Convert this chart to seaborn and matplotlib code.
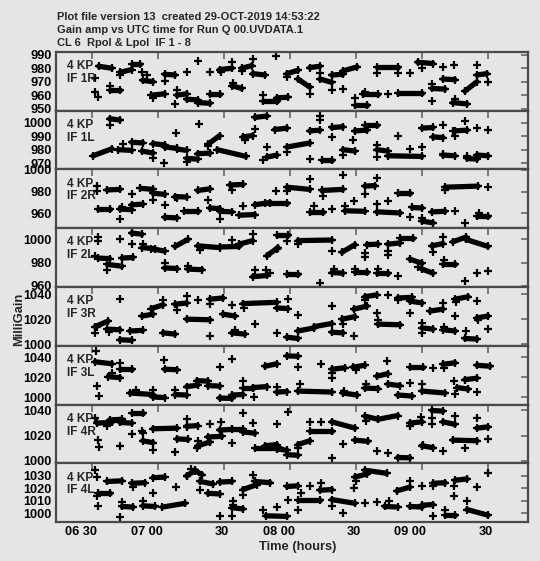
import pandas as pd
import matplotlib
matplotlib.use("Agg")
import matplotlib.pyplot as plt
import matplotlib.transforms as mtransforms
import seaborn as sns

# time axis: minutes after 06:00 UTC
tick_minutes = [30, 60, 90, 120, 150, 180, 210]
tick_labels = ["06 30", "07 00", "30", "08 00", "30", "09 00", "30"]

title_lines = ["Plot file version 13  created 29-OCT-2019 14:53:22",
               "Gain amp vs UTC time for Run Q 00.UVDATA.1",
               "CL 6  Rpol & Lpol  IF 1 - 8"]

panel_names = ["IF 1R", "IF 1L", "IF 2R", "IF 2L", "IF 3R", "IF 3L", "IF 4R", "IF 4L"]
panel_ylims = [(948.6, 992.3), (965.4, 1009.1), (946.6, 1000.3), (959.1, 1009.7),
               (998.6, 1045.8), (992.3, 1051.6), (998.0, 1044.6), (992.8, 1039.9)]
panel_yticks = [[950, 960, 970, 980, 990], [970, 980, 990, 1000], [960, 980, 1000],
                [960, 980, 1000], [1000, 1020, 1040], [1000, 1020, 1040],
                [1000, 1020, 1040], [1000, 1010, 1020, 1030]]

# dense solution blocks: (t start, t end, value start, value end)
if1r_seg = [(33, 39, 981.5, 980), (38, 42.7, 963.6, 963.6), (42.7, 48, 977, 979), (48, 52, 983, 983),
            (53, 57.7, 971, 970), (57, 63, 960, 961), (63, 67.7, 975.5, 975), (68.6, 73, 960, 961),
            (73, 78, 957, 956.5), (78, 83.6, 954.5, 954), (83.6, 88, 961, 961), (88, 93.6, 979, 980),
            (93.6, 98, 967, 965), (98, 102.7, 980, 982), (103, 108.6, 976, 975), (107.7, 114, 956, 956),
            (114, 119, 958, 958.5), (118.6, 123.6, 976, 978.5), (123.6, 129, 972, 966),
            (129, 133.6, 980.5, 981.5), (133.6, 139, 972, 969.5), (139, 144, 975, 975.5),
            (144, 150.5, 978, 981), (149.5, 155, 953, 953), (153, 160, 961, 961), (159.5, 169, 981, 981),
            (169, 180, 961.5, 961.5), (178, 185, 984.5, 983.5), (184.5, 190.5, 965, 964.5),
            (189.5, 195, 972, 971.5), (194, 200.5, 954.5, 953.5), (199.5, 205, 963, 970),
            (205, 209.5, 975, 976)]
if1r_pts = [(31.4, 962.3), (32.7, 958.5), (31.4, 972.6), (38, 966.8), (42.7, 975), (52.7, 977.4),
            (55, 975), (57.5, 957.8), (63, 970.4), (68.6, 963.6), (67.7, 953.8), (73, 977), (78, 985.5),
            (83.6, 977.4), (88.5, 977), (93.6, 985), (94, 969), (98, 978), (103, 987), (107.7, 960.3),
            (113.6, 989.2), (118.6, 973.6), (129, 961), (133.6, 976.2), (139, 963.6), (144, 964.8),
            (149.5, 958), (154, 962), (159.5, 976.7), (164.5, 960.6), (169, 976.2), (174.5, 976.2),
            (180, 980), (184.5, 968.6), (184.5, 956), (189.5, 981.2), (194.5, 982.2), (195, 957.4),
            (205, 982.5), (210, 970)]

if1l_seg = [(30.5, 39, 975.5, 980.7), (38, 42.7, 1003, 1002), (42, 48, 980, 979.5), (48, 53, 985.5, 985),
            (52.7, 57.7, 979, 977.5), (57.7, 63, 984.5, 983.5), (63, 68.6, 982, 981),
            (68.6, 73, 980.5, 979.5), (73, 78, 973.5, 973), (78, 83.6, 977, 977.5), (82.7, 88, 984, 990.5),
            (87, 100, 980, 975), (98.6, 103, 989.5, 990.5), (104, 109.5, 1004, 1005),
            (109.5, 114, 974.5, 976), (113, 118.6, 995, 996), (118.6, 129, 982, 985),
            (129, 133.6, 994, 994.5), (134.5, 139, 972, 972), (139, 144, 996.5, 997),
            (144, 149.5, 980, 979), (149.5, 155, 994, 994.5), (154, 159.5, 998, 998),
            (159.5, 164.5, 980, 979), (164.5, 180, 975.5, 975), (180, 185, 996, 996.5),
            (185, 189.5, 989.5, 989), (189.5, 195, 976, 975.5), (195, 200.5, 994, 994.5),
            (200.5, 205, 973.5, 973), (205, 210, 976, 975.5)]
if1l_pts = [(38, 998), (44, 984.4), (57.7, 974), (62.7, 970), (68.2, 992.6), (73, 970.8), (78.6, 999.3),
            (82.7, 983), (99.5, 987), (104, 995.5), (107.7, 972), (109.5, 982), (118.6, 978.2),
            (129, 973.3), (133.6, 1005.4), (133.6, 1002), (139, 989.3), (144, 975.8), (148.6, 987),
            (159.5, 983.2), (159.5, 974.5), (169, 990), (174.5, 980.7), (180, 982), (189.5, 998),
            (189.5, 977), (194, 993.8), (195, 990), (199.5, 1001), (200.5, 975), (205, 996.3),
            (210, 994.8)]

if2r_seg = [(32.7, 38, 964, 964), (36.8, 42.7, 981.5, 982), (42.7, 48, 964, 963.5), (48, 53, 968, 968.5),
            (52, 57.7, 983, 982), (57.7, 63, 978.5, 977.5), (63, 68.6, 956.5, 956), (67.7, 73, 975.5, 975),
            (72, 78, 962.5, 962.5), (78, 83.6, 981, 982.5), (83.6, 88, 965, 964.5), (88, 93.6, 962, 961.5),
            (92.7, 98.6, 986, 986.5), (97, 104, 958.5, 959), (104, 111, 968, 970),
            (108.6, 118.6, 969.5, 969.5), (118.6, 129, 984, 982), (129, 135, 961, 961),
            (134.5, 144, 981, 982), (145, 154, 962.5, 962), (154, 158.6, 985, 985.5),
            (159.5, 170, 961.5, 960.5), (169, 174.5, 978.5, 978.5), (175.5, 180, 965.5, 965),
            (180, 185, 953, 951.5), (184.5, 190.5, 961.5, 962), (190.5, 205.5, 984, 985),
            (205, 210, 957.5, 957.5)]
if2r_pts = [(32.3, 985.2), (32.3, 980.6), (42.7, 955), (43.5, 966), (48, 978.2), (57.7, 972.5), (63, 968),
            (68.6, 974), (82.7, 972.5), (88, 955), (93.6, 981.3), (98.6, 967), (113.6, 980.6),
            (118.6, 980.6), (129, 991.8), (131, 967), (139, 964.5), (135, 976), (144, 995), (145, 967),
            (149, 971.5), (154, 977.6), (159.5, 992.7), (159.5, 968.5), (164.5, 971.5), (174.5, 956.4),
            (180, 956), (195, 962), (199.5, 951), (190.5, 981), (210, 984.3), (206, 960)]

if2l_seg = [(32.7, 38, 984, 983.5), (37, 43.5, 978.5, 977), (43.6, 48.6, 984, 984.5),
            (48, 52.7, 1005.5, 1004.5), (52.7, 58.6, 993, 992), (57, 63, 992, 990), (63, 68.6, 975.5, 975),
            (67.7, 73.6, 994, 1000), (73.6, 80, 974.5, 974), (78, 88, 994.5, 993), (88, 97, 993.5, 994),
            (97, 103, 996, 999), (103, 109.5, 968, 969), (109.5, 114.5, 986, 993),
            (114, 119, 1003.5, 1003.5), (118.6, 123.6, 970.5, 970.5), (123.6, 139, 999, 999.5),
            (139, 144, 971.5, 971), (143.6, 149.5, 989, 995.5), (149.5, 155, 972, 972),
            (155, 160, 995.5, 996), (159.5, 164.5, 971, 971), (164.5, 170, 996, 997),
            (170, 176, 1001.5, 1001.5), (174.5, 180, 983, 979.5), (180, 185, 974.5, 971),
            (184.5, 189.5, 994.5, 996.5), (189.5, 195, 979, 979), (194, 200, 998, 1002),
            (200, 210, 1000, 994)]
if2l_pts = [(32.9, 1002), (32.9, 999), (31.4, 985.5), (37, 974), (42.7, 1000), (48, 996.3), (53, 996),
            (63, 979.5), (73.6, 977), (79, 991), (93.6, 999.1), (103, 1004.9), (104, 974), (109, 974),
            (114, 992), (118.6, 999), (111, 971), (123.6, 995.7), (133.6, 962.6), (139, 989.8),
            (140, 975), (149.5, 975), (154, 985), (154, 988.6), (160, 975), (164.5, 986.5),
            (164.5, 990), (169, 968.4), (178, 976), (185, 989), (189.5, 1002), (190, 982),
            (199.5, 964.6), (205, 971), (210, 973)]

if3r_seg = [(31.4, 37.3, 1014, 1018.5), (36.8, 42.7, 1012, 1011.5), (42.7, 48, 1003.5, 1003),
            (47.3, 53, 1010.5, 1011), (52.7, 57.7, 1022.5, 1024), (57, 62.3, 1028.5, 1031.5),
            (62.3, 67.7, 1009, 1008), (67.7, 73, 1032, 1033), (73, 83.6, 1020, 1019.5),
            (83.6, 89.5, 1036, 1037), (89.5, 95, 1024, 1022.5), (93.6, 99.5, 1009, 1008),
            (98.6, 114, 1032.5, 1033.5), (114, 119, 1029, 1028.5), (118.6, 123.6, 1005.5, 1004.5),
            (123.6, 131, 1010.5, 1013), (131, 139, 1014, 1016.5), (139, 144, 1009.5, 1009),
            (143.6, 149.5, 1020, 1022), (149, 155, 1028, 1030.5), (154, 159.5, 1038, 1039.5),
            (160, 170, 1016, 1015.5), (169, 175.5, 1037, 1037.5), (174.5, 180, 1034.5, 1033),
            (180, 185, 1013, 1012), (183.6, 189.5, 1026.5, 1028), (189.5, 195, 1011.5, 1010.5),
            (195, 201, 1036, 1038), (199.5, 205, 1004.5, 1004), (205, 210, 1021, 1022.5)]
if3r_pts = [(31.4, 1008.5), (32.1, 1013.6), (42.7, 1036), (37.5, 1010), (62.3, 1035), (68.6, 1027.7),
            (73, 1038.4), (78, 1035), (83.6, 1006.4), (83.6, 1032.5), (93.6, 1031), (95, 1011),
            (99, 1029), (104, 1016.4), (119, 1036.3), (114, 1008.5), (123.6, 1023.2), (139, 1030.8),
            (144, 1015.8), (149, 1006.7), (154, 1035), (164.5, 1039.7), (159.5, 1025), (160, 1019.6),
            (169, 1035), (174.5, 1025.3), (180, 1016.6), (180, 1008.5), (189.5, 1032.6), (195, 1022.6),
            (190, 1014), (195.5, 1034), (200, 1010.2), (205, 1034.4), (205.5, 1019), (210, 1012)]

if3l_seg = [(31.4, 39, 1035.5, 1033.5), (37.3, 42.7, 1020.5, 1019.5), (42.7, 48, 1028, 1028),
            (47.3, 57.7, 1004, 1002.5), (57.7, 63, 1000, 999.5), (63, 68.6, 1028, 1027.5),
            (67.7, 73, 1002.5, 1002), (73, 78, 1010.5, 1012), (77.7, 82.7, 1016.5, 1016),
            (82.7, 88, 1011.5, 1011), (88, 93.6, 999, 998.5), (93.6, 98.6, 1002, 1002.5),
            (98.6, 103, 1009, 1009), (103, 109.5, 1009.5, 1010.5), (108.6, 114, 1031, 1033.5),
            (114, 118.6, 1005, 1005.5), (118.6, 123.6, 1041.5, 1041), (123.6, 139, 1006, 1005),
            (139, 145, 1028, 1029.5), (144, 150.5, 1004, 1002), (148.6, 154, 1030, 1032),
            (154, 160, 1009, 1008.5), (159.5, 164.5, 1021, 1023.5), (164.5, 170, 1013, 1011.5),
            (169, 175.5, 1002, 1001), (174.5, 180.5, 1030.5, 1030.5), (180, 190.5, 1006, 1004),
            (189.5, 195, 1033, 1034.5), (196, 201, 1009.5, 1008), (199.5, 205, 1017.5, 1019),
            (205, 211, 1032, 1031)]
if3l_pts = [(31.7, 1046.3), (32.4, 1011.3), (33, 1000.6), (39, 1024), (42.7, 1034), (50, 1007.5),
            (57.7, 1007.3), (62.7, 1037.3), (67.7, 1007.3), (88, 1030), (93.6, 1038.3), (98.6, 1016.6),
            (103.5, 1000), (114, 1009.6), (123.6, 1030.6), (124.5, 1013), (134, 1033), (139, 1024),
            (139, 1019), (144.5, 1006.3), (150, 1027), (154.5, 1013), (164, 1036), (174.5, 1014),
            (180, 1013), (185, 1029.6), (190, 1029), (195, 1003), (194.5, 1016), (205, 1005)]

if4r_seg = [(32.3, 39, 1030, 1030.5), (38, 43.6, 1032.5, 1033), (42.7, 48, 1030.5, 1030),
            (48, 53, 1038, 1038), (53, 57.7, 1016, 1014.5), (57.7, 68.6, 1025.5, 1026),
            (68.6, 73.6, 1017.5, 1017), (73, 78, 1027.5, 1028), (78, 83.6, 1012, 1015),
            (82.7, 89, 1019, 1019.5), (88, 93.6, 1024.5, 1025), (93.6, 98.6, 1025, 1025),
            (98.6, 104, 1023, 1022), (104, 115.5, 1010, 1010), (108.6, 114, 1012, 1013),
            (114, 118.6, 1009.5, 1008.5), (118.6, 123.6, 1005, 1004.5), (123.6, 129, 1013, 1016),
            (129, 139, 1024, 1024), (139, 149.5, 1031, 1026), (149.5, 155.5, 1016.5, 1015.5),
            (154, 160, 1035.5, 1033), (160, 169, 1033, 1036), (169, 174.5, 1002.7, 1002.5),
            (174.5, 180, 1030, 1031), (180, 185, 1012, 1010.5), (184.5, 189.5, 1040, 1039.5),
            (189.5, 195, 1031, 1029), (194, 205, 1016.5, 1016), (205, 210, 1026, 1027)]
if4r_pts = [(31.4, 1034), (32.9, 1016.6), (33.3, 1011.2), (37, 1027.8), (42.7, 1011.8), (48, 1021.4),
            (52.7, 1024), (53, 1022), (57.7, 1008.6), (67.7, 1007.2), (73, 1033), (73, 1027.2),
            (78, 1016), (77.7, 1010), (83.6, 1029.4), (88.6, 1031.2), (93.6, 1014), (98.6, 1038),
            (103, 1030.4), (114, 1029.4), (119, 1038.4), (123.6, 1010), (129, 1031.2), (134, 1031.2),
            (139, 1002.7), (144, 1013.4), (154.5, 1032), (159.5, 1008), (164.5, 1006.4), (174.5, 1028),
            (179.5, 1035), (184.5, 1034), (184.5, 1029.4), (180.5, 1013), (189.5, 1008), (195, 1036),
            (199.5, 1010), (205, 1034), (210, 1017)]

if4l_seg = [(32.7, 38, 1016, 1016), (36.8, 43.6, 1025.5, 1026), (43.6, 48.6, 1005.5, 1005),
            (48, 54, 1024, 1024.5), (53, 58.6, 1006, 1005.5), (57.7, 63, 1028.5, 1029),
            (62, 72.3, 1005, 1008), (73, 77, 1030, 1034.5), (77, 80, 1034, 1031),
            (79, 85, 1025.5, 1023.5), (82.7, 88, 1016, 1015.5), (88, 93.6, 1025, 1025.5),
            (93.6, 98.6, 1004.5, 1003.5), (98.6, 105, 1019, 1023), (104, 111, 1025.5, 1024.5),
            (109, 118.6, 998, 997.5), (118.6, 123.6, 1021.5, 1022), (123.6, 133.6, 1011, 1011),
            (133.6, 139, 1018.5, 1019), (139, 149.5, 1011, 1008), (149.5, 155, 1029, 1031.5),
            (154, 164, 1034.5, 1032), (163, 169, 1005.5, 1005), (168.6, 174.5, 1018, 1021),
            (174.5, 180, 1005.5, 1005), (180, 185, 1006.5, 1007), (185, 190.5, 1024, 1024.5),
            (190.5, 195, 998.5, 998.5), (195, 200.5, 1026.5, 1027.5), (200.5, 210, 1003, 998.5)]
if4l_pts = [(31.4, 1035), (32.1, 1029.2), (32.1, 1013.8), (32.9, 1006), (42.7, 997.2), (43.6, 1009),
            (48.6, 1021), (53, 1010), (57.7, 1016), (68.2, 1020.7), (73, 1029.8), (75, 1035.5),
            (79, 1018.5), (88, 997.8), (93.6, 997.8), (94, 1010), (94, 1007), (98.6, 1014.6),
            (103, 1030.6), (107.7, 1003), (114, 1004.7), (119, 1010.6), (123.6, 1003), (125, 1016),
            (129, 1021.8), (134, 1024.4), (139, 1005.8), (144, 1000.4), (149, 1020), (150, 1026),
            (154, 1008), (159.5, 1009.2), (165, 1010), (174.5, 1026), (180, 1021.8), (185, 1021.8),
            (185, 997.8), (190.5, 1003), (194.5, 1021.8), (194.5, 1013.8), (200.5, 1010), (205, 1021.2),
            (210, 1032.4)]

panel_segs = [if1r_seg, if1l_seg, if2r_seg, if2l_seg, if3r_seg, if3l_seg, if4r_seg, if4l_seg]
panel_pts = [if1r_pts, if1l_pts, if2r_pts, if2l_pts, if3r_pts, if3l_pts, if4r_pts, if4l_pts]

bg = "#e5e5e5"
frame = "#4a4a4a"

sns.set_theme(style="white")
plt.rcParams["font.family"] = ["Liberation Sans", "DejaVu Sans"]
plt.rcParams["font.weight"] = "bold"

fig, axes = plt.subplots(8, 1, figsize=(5.4, 5.61), dpi=100, sharex=True,
                         gridspec_kw={"hspace": 0})
fig.patch.set_facecolor(bg)
fig.subplots_adjust(left=56 / 540, right=528 / 540, top=1 - 51.7 / 561, bottom=1 - 522.3 / 561)

for i, ax in enumerate(axes):
    rows = []
    for k, (t0, t1, v0, v1) in enumerate(panel_segs[i]):
        rows.append({"seg": k, "t": t0, "v": v0})
        rows.append({"seg": k, "t": t1, "v": v1})
    seg_df = pd.DataFrame(rows)
    pts_df = pd.DataFrame(panel_pts[i], columns=["t", "v"])

    sns.lineplot(data=seg_df, x="t", y="v", units="seg", estimator=None, color="black",
                 lw=3.8, ax=ax, legend=False)
    sns.scatterplot(data=seg_df, x="t", y="v", marker="+", s=32, color="black",
                    linewidth=1.6, ax=ax, legend=False)
    sns.scatterplot(data=pts_df, x="t", y="v", marker="+", s=32, color="black",
                    linewidth=1.6, ax=ax, legend=False)

    ax.set_facecolor(bg)
    ax.set_xlim(13.6, 228.2)
    ax.set_ylim(*panel_ylims[i])
    ax.set_yticks(panel_yticks[i])
    ax.set_xticks(tick_minutes)
    ax.set_xlabel("")
    ax.set_ylabel("")
    ax.tick_params(direction="in", length=5, width=1.2, color="#666666", top=True, right=True,
                   labelsize=9.2, pad=3, labelcolor="black")
    for sp in ax.spines.values():
        sp.set_color(frame)
        sp.set_linewidth(1.6)
    ax.text(0.0227, 0.706, "4 KP", transform=ax.transAxes, fontsize=8.6, fontweight="bold",
            va="baseline", ha="left")
    ax.text(0.0227, 0.49, panel_names[i], transform=ax.transAxes, fontsize=8.6, fontweight="bold",
            va="baseline", ha="left")

axes[-1].set_xticklabels(tick_labels)
# AIPS places the time labels with their right end just past the tick
shift = mtransforms.ScaledTranslation(4.5 / 100, 0, fig.dpi_scale_trans)
for lab in axes[-1].get_xticklabels():
    lab.set_horizontalalignment("right")
    lab.set_transform(lab.get_transform() + shift)

for line, yb in zip(title_lines, [20, 32.7, 46]):
    fig.text(56.7 / 540, 1 - yb / 561, line, fontsize=8.0, fontweight="bold", ha="left",
             va="baseline")

fig.text(297.5 / 540, 1 - 550 / 561, "Time (hours)", fontsize=9.3, fontweight="bold",
         ha="center", va="baseline")
fig.text(19 / 540, 1 - 319 / 561, "MilliGain", fontsize=9.3, fontweight="bold",
         rotation=90, ha="center", va="center")

fig.savefig("out.png", dpi=100, facecolor=bg)
